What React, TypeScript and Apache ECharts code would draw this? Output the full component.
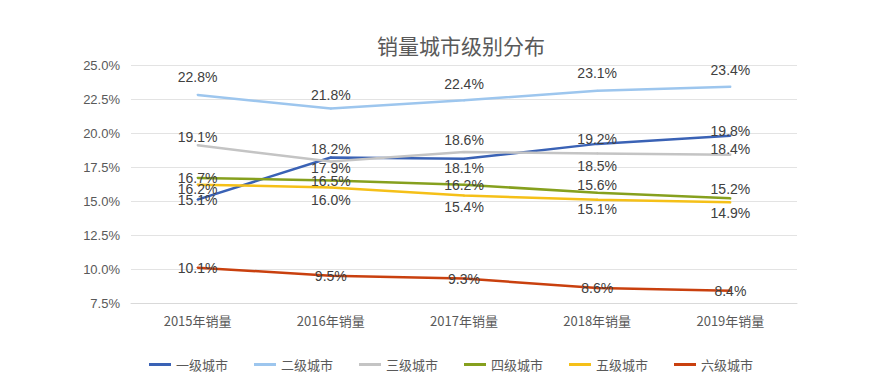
import React, { useEffect, useRef } from "react";
import * as echarts from "echarts";

const categories = ["2015年销量", "2016年销量", "2017年销量", "2018年销量", "2019年销量"];
const seriesNames = ["一级城市", "二级城市", "三级城市", "四级城市", "五级城市", "六级城市"];
const tier1 = [15.1, 18.2, 18.1, 19.2, 19.8];
const tier2 = [22.8, 21.8, 22.4, 23.1, 23.4];
const tier3 = [19.1, 17.9, 18.6, 18.5, 18.4];
const tier4 = [16.7, 16.5, 16.2, 15.6, 15.2];
const tier5 = [16.2, 16.0, 15.4, 15.1, 14.9];
const tier6 = [10.1, 9.5, 9.3, 8.6, 8.4];
const colors = ["#3A62B5", "#9DC6EE", "#C4C4C4", "#86A01E", "#F5C018", "#C9400E"];

// label placement per point: [position, distance]
const labelPos: [string, number][][] = [
  [["inside", 0], ["top", 0], ["bottom", 1], ["top", -3], ["top", -3]],
  [["top", 10], ["top", 6], ["top", 8], ["top", 10], ["top", 9]],
  [["top", 0], ["bottom", -2], ["top", 4], ["bottom", 5], ["top", -2]],
  [["inside", 0], ["inside", 0], ["inside", 0], ["top", 0], ["top", 1]],
  [["bottom", -4], ["bottom", 5], ["bottom", 3], ["bottom", 1], ["bottom", 3]],
  [["inside", 0], ["inside", 0], ["inside", 0], ["inside", 0], ["inside", 0]],
];

const allData = [tier1, tier2, tier3, tier4, tier5, tier6];

export default function App() {
  const ref = useRef<HTMLDivElement>(null);
  useEffect(() => {
    const chart = echarts.init(ref.current!, null, { renderer: "svg" });
    chart.setOption({
      animation: false,
      backgroundColor: "#ffffff",
      title: {
        text: "销量城市级别分布",
        left: 372,
        top: 29,
        textStyle: { fontSize: 21, fontWeight: "normal", color: "#595959", fontFamily: "Noto Sans CJK SC" },
      },
      legend: {
        left: 144,
        top: 353,
        itemWidth: 22,
        itemHeight: 3,
        itemGap: 26,
        icon: "rect",
        data: seriesNames.map((n, i) => ({ name: n, itemStyle: { color: colors[i], opacity: 1 } })),
        textStyle: { fontSize: 13, color: "#595959", fontFamily: "Noto Sans CJK SC" },
      },
      grid: { left: 131, right: 90, top: 65, bottom: 88 },
      xAxis: {
        type: "category",
        data: categories,
        axisLine: { lineStyle: { color: "#d9d9d9" } },
        axisTick: { show: false },
        axisLabel: { fontSize: 13, color: "#595959", margin: 11, fontFamily: "Noto Sans CJK SC" },
      },
      yAxis: {
        type: "value",
        min: 7.5,
        max: 25,
        interval: 2.5,
        axisLine: { show: false },
        axisTick: { show: false },
        splitLine: { lineStyle: { color: "#e3e3e3" } },
        axisLabel: {
          fontSize: 13,
          color: "#595959",
          margin: 11,
          fontFamily: "Liberation Sans",
          formatter: (v: number) => v.toFixed(1) + "%",
        },
      },
      series: allData.map((arr, i) => ({
        name: seriesNames[i],
        type: "line",
        symbol: "circle",
        symbolSize: 2,
        showSymbol: true,
        itemStyle: { color: colors[i] },
        color: colors[i],
        lineStyle: { width: 2.5, color: colors[i] },
        data: arr.map((v, j) => ({
          value: v,
          label: { position: labelPos[i][j][0], distance: labelPos[i][j][1] },
        })),
        label: {
          show: true,
          fontSize: 14,
          color: "#404040",
          fontFamily: "Liberation Sans",
          formatter: (p: any) => Number(p.value).toFixed(1) + "%",
        },
        labelLayout: { hideOverlap: false },
        z: 2 + i,
      })),
    });
    return () => chart.dispose();
  }, []);
  return (
    <div
      ref={ref}
      style={{ position: "absolute", left: 0, top: 0, width: 887, height: 391 }}
    />
  );
}
